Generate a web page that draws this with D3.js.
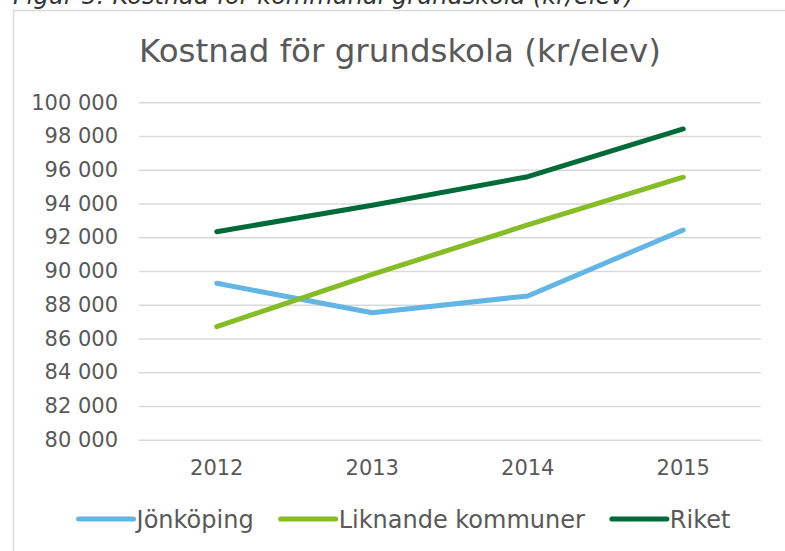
<!DOCTYPE html>
<html>
<head>
<meta charset="utf-8">
<script src="https://cdn.jsdelivr.net/npm/d3@7"></script>
<style>
  body { margin: 0; background: #fff; }
  svg { display: block; font-family: "DejaVu Sans", Verdana, sans-serif; }
</style>
</head>
<body>
<svg id="chart" width="785" height="551"></svg>
<script>
var years = ["2012", "2013", "2014", "2015"]
var seriesNames = ["Jönköping", "Liknande kommuner", "Riket"]
var jonkoping = [89270, 87530, 88520, 92430]
var liknande = [86700, 89800, 92730, 95560]
var riket = [92330, 93900, 95590, 98420]
var yTicks = [80000, 82000, 84000, 86000, 88000, 90000, 92000, 94000, 96000, 98000, 100000]
var colors = ["#63b5e5", "#86bc25", "#006a38"]

var series = [jonkoping, liknande, riket]

var svg = d3.select("#chart")

// caption above the chart, mostly cut off at the top (as in the source)
svg.append("text")
    .attr("x", 13)
    .attr("y", 4)
    .attr("fill", "#333")
    .style("font-style", "italic")
    .style("font-size", "24px")
    .text("Figur 5: Kostnad för kommunal grundskola (kr/elev)")

// chart frame (only left and top edges are inside the picture)
svg.append("path")
    .attr("d", "M13.5,560V10.5H800")
    .attr("fill", "none")
    .attr("stroke", "#d9d9d9")
    .attr("stroke-width", 1.5)

svg.append("text")
    .attr("x", 400)
    .attr("y", 62)
    .attr("text-anchor", "middle")
    .attr("fill", "#595959")
    .style("font-size", "32.5px")
    .text("Kostnad för grundskola (kr/elev)")

var x = d3.scaleBand()
    .domain(years)
    .range([139, 761])

var y = d3.scaleLinear()
    .domain([80000, 100000])
    .range([439.7, 102.3])

var fmt = function(d) {
  return d3.format(",")(d).replace(/,/g, " ")
}

var yAxis = svg.append("g")
    .attr("transform", "translate(139,0)")
    .call(d3.axisLeft(y).tickValues(yTicks).tickSize(-622).tickPadding(21).tickFormat(fmt))

yAxis.select(".domain").remove()
yAxis.selectAll(".tick line")
    .attr("stroke", "#d9d9d9")
    .attr("stroke-width", 1.5)
yAxis.selectAll(".tick text")
    .attr("fill", "#595959")
    .style("font-family", "DejaVu Sans, Verdana, sans-serif")
    .style("font-size", "21px")

var xAxis = svg.append("g")
    .attr("transform", "translate(0,439.7)")
    .call(d3.axisBottom(x).tickSize(0).tickPadding(20))

xAxis.select(".domain").remove()
xAxis.selectAll(".tick text")
    .attr("fill", "#595959")
    .style("font-family", "DejaVu Sans, Verdana, sans-serif")
    .style("font-size", "21px")

var line = d3.line()
    .x(function(d, i) { return x(years[i]) + x.bandwidth() / 2 })
    .y(function(d) { return y(d) })

svg.append("g")
    .selectAll("path")
    .data(series)
    .enter().append("path")
    .attr("d", line)
    .attr("fill", "none")
    .attr("stroke", function(d, i) { return colors[i] })
    .attr("stroke-width", 5)
    .attr("stroke-linecap", "round")
    .attr("stroke-linejoin", "round")

// legend, laid out from the text widths and centred
var legend = svg.append("g")
var items = legend.selectAll("g")
    .data(seriesNames)
    .enter().append("g")

items.append("line")
    .attr("x1", 0)
    .attr("x2", 55)
    .attr("y1", 519)
    .attr("y2", 519)
    .attr("stroke", function(d, i) { return colors[i] })
    .attr("stroke-width", 5)
    .attr("stroke-linecap", "round")

items.append("text")
    .attr("x", 58)
    .attr("y", 527.5)
    .attr("fill", "#595959")
    .style("font-size", "24px")
    .text(function(d) { return d })

var widths = []
items.each(function() {
  widths.push(58 + d3.select(this).select("text").node().getComputedTextLength())
})
var gap = 27
var total = d3.sum(widths) + gap * (widths.length - 1)
var start = 404.5 - total / 2
items.attr("transform", function(d, i) {
  var off = start + d3.sum(widths.slice(0, i)) + gap * i
  return "translate(" + off + ",0)"
})
</script>
</body>
</html>
